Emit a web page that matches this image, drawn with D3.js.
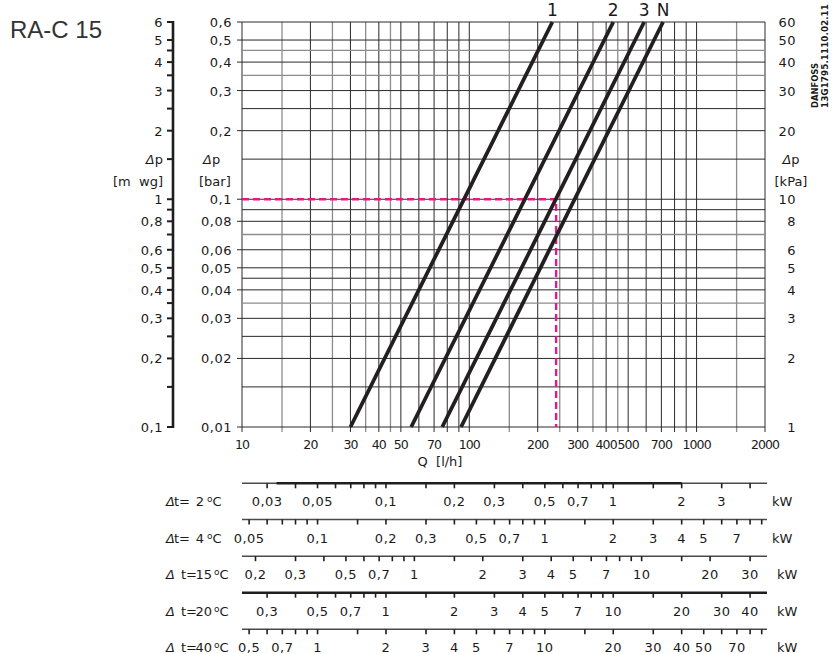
<!DOCTYPE html>
<html><head><meta charset="utf-8">
<script src="https://cdn.jsdelivr.net/npm/d3@7"></script>
<style>
body{margin:0;background:#fff}
svg{display:block}
text{font-family:"DejaVu Sans",sans-serif;fill:#1a1a1a}
</style>
</head><body>
<svg id="c" width="835" height="654"></svg>
<script>
// ---------------- data ----------------
const title = "RA-C 15";
const curveNames = ["1", "2", "3", "N"];
const curveQAtLow = [30, 55.5, 76, 92];      // Q [l/h] at Δp = 0.01 bar
const curveQAtHigh = [232, 430, 588, 712];   // Q [l/h] at Δp = 0.6 bar
const curveDpRange = [0.01, 0.6];            // bar
const exampleQ = 241;                        // l/h (pink dashed)
const exampleDp = 0.1;                       // bar

const qGrid = [10,15,20,25,30,35,40,45,50,60,70,80,90,100,150,200,250,300,350,400,450,500,600,700,800,900,1000,1500,2000];
const qGridGray = [15,25,35,45,150,250,350,450,1500];
const qLabels = [10,20,30,40,50,70,100,200,300,400,500,700,1000,2000];

const dpGrid = [0.01,0.015,0.02,0.025,0.03,0.035,0.04,0.045,0.05,0.06,0.07,0.08,0.09,0.1,0.15,0.2,0.25,0.3,0.35,0.4,0.45,0.5,0.6];
const dpGridGray = [0.45,0.35,0.07,0.035];
const barLabels = [0.6,0.5,0.4,0.3,0.2,0.1,0.08,0.06,0.05,0.04,0.03,0.02,0.01];
const mwgTicks = [6,5,4.5,4,3.5,3,2.5,2,1.5,1,0.9,0.8,0.7,0.6,0.5,0.45,0.4,0.35,0.3,0.25,0.2,0.15,0.1];
const mwgLabels = [6,5,4,3,2,1,0.8,0.6,0.5,0.4,0.3,0.2,0.1];
const kpaLabels = [60,50,40,30,20,10,8,6,5,4,3,2,1];

const deltaT = [2, 4, 15, 20, 40];
const kwMantissas = [1,1.5,2,3,4,5,6,7,8,9];
const kwLabels = [
  [0.03,0.05,0.1,0.2,0.3,0.5,0.7,1,2,3],
  [0.05,0.1,0.2,0.3,0.5,0.7,1,2,3,4,5,7],
  [0.2,0.3,0.5,0.7,1,2,3,4,5,7,10,20,30],
  [0.3,0.5,0.7,1,2,3,4,5,7,10,20,30,40],
  [0.5,0.7,1,2,3,4,5,7,10,20,30,40,50,70]
];
const kwLineStyle = ["mixed","thin","thin","thick","thin"];
const row1ThickRange = [0.033, 2];  // kW

// ---------------- layout ----------------
const svg = d3.select("#c");
const X0 = 242, X1 = 765, Y0 = 427, Y1 = 22;
const x = d3.scaleLog().domain([10, 2000]).range([X0, X1]);
const y = d3.scaleLog().domain([0.01, 0.6]).range([Y0, Y1]);
const fmt = v => String(v).replace(".", ",");
const ink = "#1e1e1e";

// title
svg.append("text").attr("x", 10).attr("y", 38).text(title)
  .style("font-family", "'Liberation Sans', Arial, sans-serif").style("font-size", "24px").style("fill", "#333");

// grid
const g = svg.append("g");
g.selectAll(".vg").data(qGrid).join("line")
  .attr("x1", d => x(d)).attr("x2", d => x(d)).attr("y1", Y1).attr("y2", Y0 + 5)
  .attr("stroke", d => qGridGray.includes(d) ? "#8c8c8c" : "#2a2a2a")
  .attr("stroke-width", d => qGridGray.includes(d) ? 1.3 : 1);
g.selectAll(".hg").data(dpGrid).join("line")
  .attr("x1", d => barLabels.includes(d) ? X0 - 5 : X0).attr("x2", x(2000))
  .attr("y1", d => y(d)).attr("y2", d => y(d))
  .attr("stroke", d => dpGridGray.includes(d) ? "#8c8c8c" : "#2a2a2a")
  .attr("stroke-width", d => dpGridGray.includes(d) ? 1.3 : 1);

// Q labels
const fs = "13px";
svg.selectAll(".ql").data(qLabels).join("text")
  .attr("x", d => x(d)).attr("y", 449).attr("text-anchor", "middle")
  .style("font-size", "12.5px").style("letter-spacing", "-0.9px").text(d => d);
svg.append("text").attr("x", 440).attr("y", 466).attr("text-anchor", "middle")
  .style("font-size", fs).style("white-space", "pre").text("Q  [l/h]");

// bar labels
svg.selectAll(".bl").data(barLabels).join("text")
  .attr("x", 232).attr("y", d => y(d) + 5).attr("text-anchor", "end")
  .style("font-size", fs).style("letter-spacing", "0.5px").text(fmt);
function deltaLabel(xp, yp, anchor) {
  const t = svg.append("text").attr("x", xp).attr("y", yp).attr("text-anchor", anchor).style("font-size", fs);
  t.append("tspan").style("font-style", "italic").text("Δ");
  t.append("tspan").text("p");
}
deltaLabel(203, y(0.15) + 5, "start");
svg.append("text").attr("x", 199).attr("y", y(0.15) + 27).style("font-size", fs).text("[bar]");

// m wg axis
const mwg = v => y(v / 10);
svg.append("line").attr("x1", 173).attr("x2", 173).attr("y1", Y1 - 1).attr("y2", Y0 + 1)
  .attr("stroke", ink).attr("stroke-width", 2.6);
svg.selectAll(".mt").data(mwgTicks).join("line")
  .attr("x1", 167).attr("x2", 173).attr("y1", mwg).attr("y2", mwg)
  .attr("stroke", ink).attr("stroke-width", 2);
svg.selectAll(".ml").data(mwgLabels).join("text")
  .attr("x", 163).attr("y", d => mwg(d) + 5).attr("text-anchor", "end")
  .style("font-size", fs).style("letter-spacing", "0.5px").text(fmt);
deltaLabel(163, mwg(1.5) + 5, "end");
svg.append("text").attr("x", 163).attr("y", mwg(1.5) + 27).attr("text-anchor", "end")
  .style("font-size", fs).style("white-space", "pre").text("[m  wg]");

// kPa labels
svg.selectAll(".kl").data(kpaLabels).join("text")
  .attr("x", 796).attr("y", d => y(d / 100) + 5).attr("text-anchor", "end")
  .style("font-size", fs).style("letter-spacing", "0.5px").text(d => d);
deltaLabel(791, y(0.15) + 5, "middle");
svg.append("text").attr("x", 791).attr("y", y(0.15) + 27).attr("text-anchor", "middle")
  .style("font-size", fs).text("[kPa]");

// Danfoss rotated text
svg.append("text").attr("transform", "translate(818,108) rotate(-90)")
  .style("font-size", "9px").style("font-weight", "bold")
  .attr("textLength", 45).attr("lengthAdjust", "spacingAndGlyphs").text("DANFOSS");
svg.append("text").attr("transform", "translate(828,108) rotate(-90)")
  .style("font-size", "9px").style("font-weight", "bold")
  .attr("textLength", 104).attr("lengthAdjust", "spacingAndGlyphs").text("13G1795.1110.02.11");

// pink example
const pink = "#e8168b";
svg.append("path")
  .attr("d", d3.line()([[X0, y(exampleDp)], [x(exampleQ), y(exampleDp)], [x(exampleQ), Y0]]))
  .attr("fill", "none").attr("stroke", pink).attr("stroke-width", 2.4).attr("stroke-dasharray", "7,4");

// curves
const curves = curveNames.map((n, i) => ({ name: n, pts: [[curveQAtLow[i], curveDpRange[0]], [curveQAtHigh[i], curveDpRange[1]]] }));
const line = d3.line().x(d => x(d[0])).y(d => y(d[1]));
svg.selectAll(".cv").data(curves).join("path")
  .attr("d", d => line(d.pts)).attr("fill", "none").attr("stroke", "#231f20").attr("stroke-width", 3.8);
svg.selectAll(".cl").data(curves).join("text")
  .attr("x", d => x(d.pts[1][0])).attr("y", 15.5).attr("text-anchor", "middle")
  .style("font-size", "17px").text(d => d.name);

// kW scales
const rowY = [483.3, 519.5, 556.2, 592.7, 629.3];
deltaT.forEach((dt, i) => {
  const k = dt * 1.163 / 1000;
  const s = d3.scaleLog().domain([10 * k, 2000 * k]).range([X0, X1]);
  const ry = rowY[i];
  const gg = svg.append("g");
  const style = kwLineStyle[i];
  gg.append("line").attr("x1", X0).attr("x2", X1 + 2).attr("y1", ry).attr("y2", ry)
    .attr("stroke", style === "thick" ? ink : "#4a4a4a").attr("stroke-width", style === "thick" ? 2.6 : 1.4);
  if (style === "mixed") {
    gg.append("line").attr("x1", s(row1ThickRange[0])).attr("x2", s(row1ThickRange[1]))
      .attr("y1", ry).attr("y2", ry).attr("stroke", ink).attr("stroke-width", 2.6);
  }
  const [lo, hi] = s.domain();
  const ticks = [];
  for (let e = -3; e <= 3; e++) kwMantissas.forEach(m => {
    const v = +(m * Math.pow(10, e)).toPrecision(6);
    if (v >= lo * 1.0001 && v <= hi) ticks.push(v);
  });
  gg.selectAll("line.t").data(ticks).join("line").attr("class", "t")
    .attr("x1", d => s(d)).attr("x2", d => s(d)).attr("y1", ry).attr("y2", ry + 5)
    .attr("stroke", ink).attr("stroke-width", 1.6);
  gg.selectAll("text.l").data(kwLabels[i]).join("text").attr("class", "l")
    .attr("x", d => s(d)).attr("y", ry + 23).attr("text-anchor", "middle")
    .style("font-size", fs).style("letter-spacing", "0.5px").text(fmt);
  gg.append("text").attr("x", i < 2 ? 772 : 777).attr("y", ry + 23).style("font-size", fs).text("kW");
  // row label
  const t = gg.append("text").attr("y", ry + 23).style("font-size", fs);
  t.append("tspan").attr("x", 166).style("font-style", "italic").text("Δ");
  t.append("tspan").attr("x", i < 2 ? 174 : 181).text("t=");
  t.append("tspan").attr("x", i < 2 ? 204 : 212).attr("text-anchor", "end").text(dt);
  const t2 = gg.append("text").attr("y", ry + 23).style("font-size", fs);
  t2.append("tspan").attr("x", i < 2 ? 207 : 214).attr("dy", -4).style("font-size", "9px").text("o");
  t2.append("tspan").attr("dy", 4).text("C");
});
</script>
</body></html>
